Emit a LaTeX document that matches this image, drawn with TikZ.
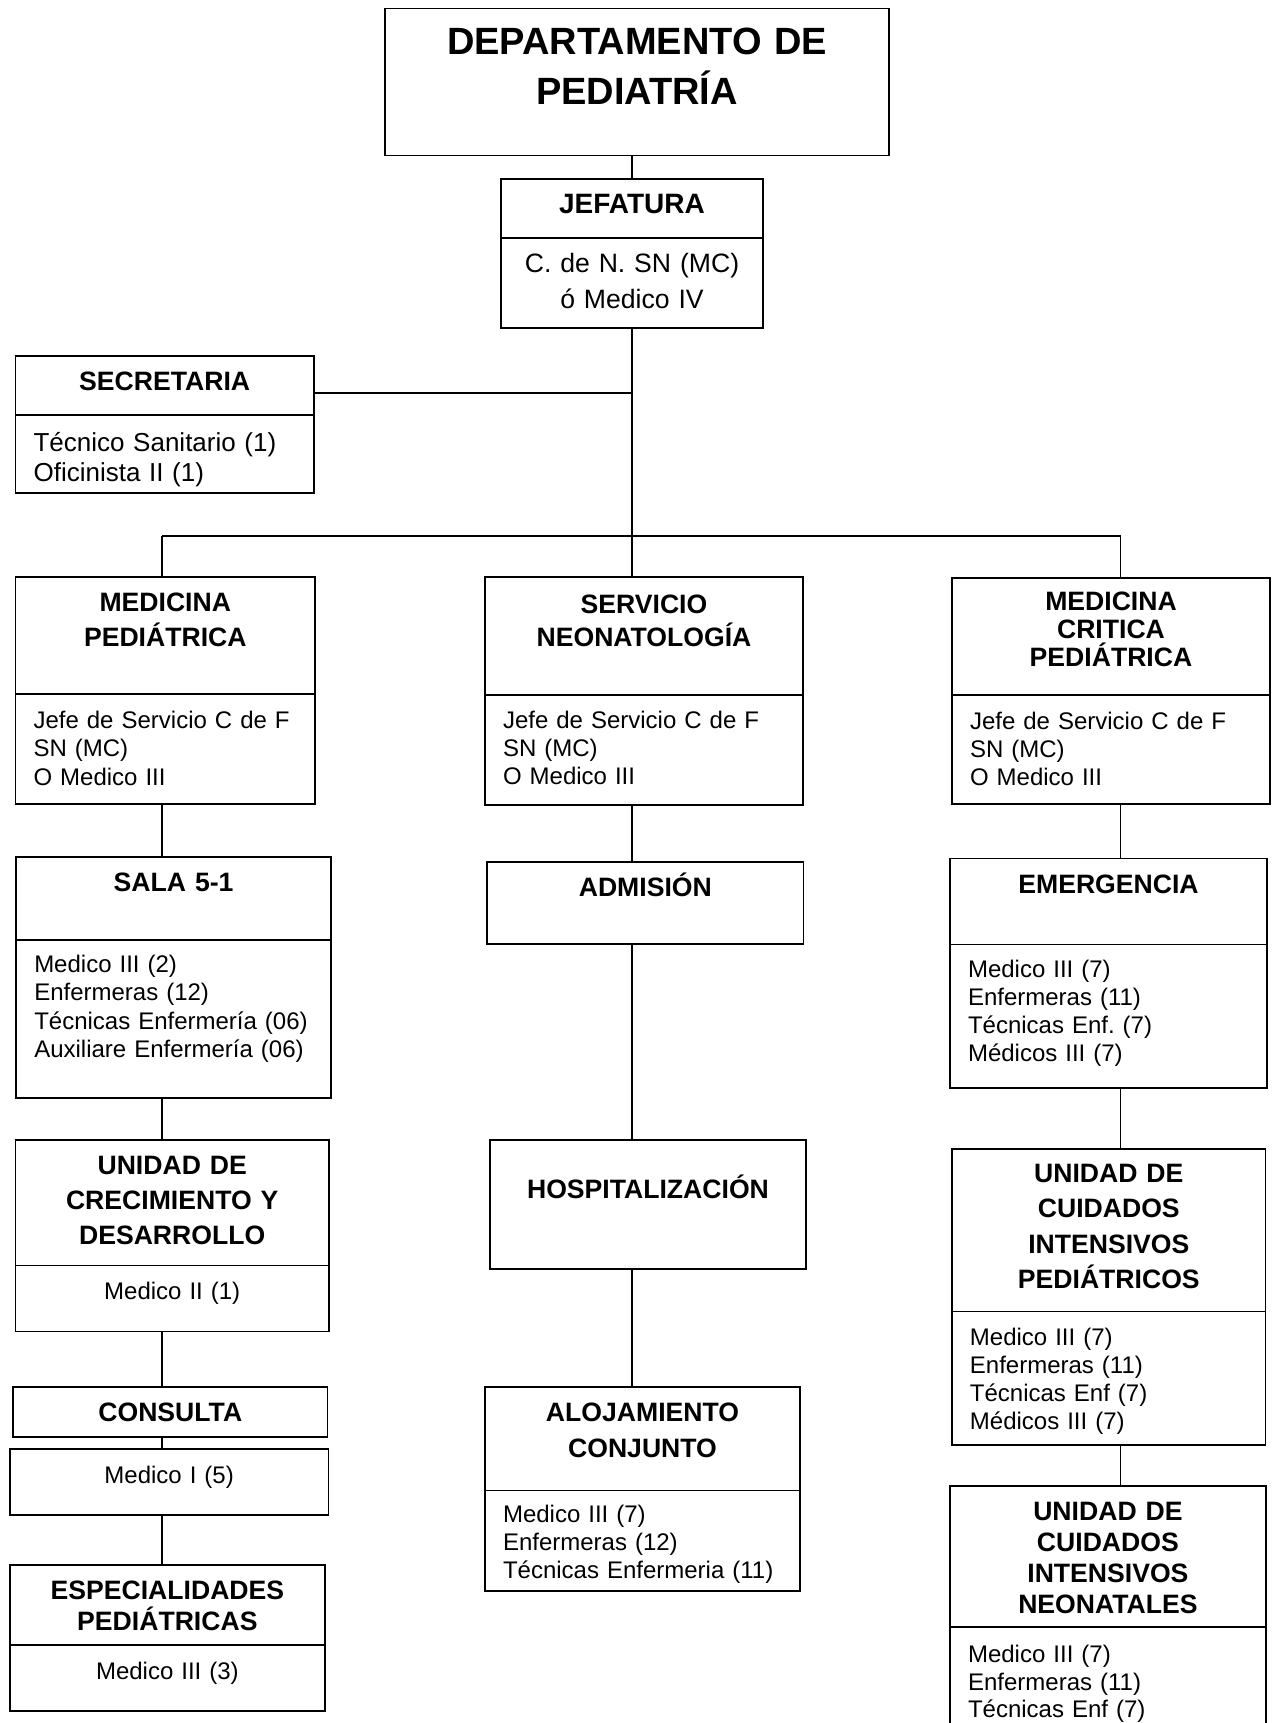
\documentclass[tikz,border=0pt]{standalone}
\usepackage{fontspec}
\setmainfont{Liberation Sans}
\usetikzlibrary{positioning}

\begin{document}
\frenchspacing
\begin{tikzpicture}[%
        x=0.5pt, y=-0.5pt,
        box/.style={draw, rectangle, anchor=north, inner xsep=9pt, inner ysep=0pt, outer sep=0pt, text height=17pt, line width=0.8pt},
        title/.style={box, align=center, font=\bfseries\fontsize{13.3}{#1}\selectfont},
        title/.default=17.5pt,
        staff/.style={box, align=left, font=\fontsize{12}{#1}\selectfont},
        staff/.default=14pt,
        headcount/.style={box, align=center, font=\fontsize{12}{#1}\selectfont},
        headcount/.default=14pt,
        line width=0.8pt
      ]
      \useasboundingbox (0,0) rectangle (1278,1723);
      % top of the chart
      \node [title=25pt, font=\bfseries\fontsize{19}{25}\selectfont, text width=234.25pt, text height=23pt, text depth=50.5pt] (dept) at (637,8.6) {DEPARTAMENTO DE\\PEDIATRÍA};
      \node [title, font=\bfseries\fontsize{14}{17.5}\selectfont, text width=113pt, text depth=12.5pt] (jefT) at (632,179) {JEFATURA};
      \node [headcount=18pt, font=\fontsize{13.3}{18}\selectfont, text width=113pt, text depth=28pt, below=0pt of jefT] (jefB) {C. de N. SN (MC)\\ó Medico IV};
      \node [title, text width=131.15pt, text depth=12.5pt] (secT) at (164.7,356) {SECRETARIA};
      \node [staff=15pt, font=\fontsize{13}{15}\selectfont, text width=131.15pt, text height=18pt, text depth=21pt, below=0pt of secT] (secB) {Técnico Sanitario (1)\\Oficinista II (1)};
      % services
      \node [title=17.75pt, text width=131.75pt, text depth=41.5pt] (mpT) at (165.3,577) {MEDICINA\\PEDIÁTRICA};
      \node [staff=14.25pt, text width=131.75pt, text depth=38pt, below=0pt of mpT] (mpB) {Jefe de Servicio C de F\\SN (MC)\\O Medico III};
      \node [title=16.75pt, text width=141pt, text height=18pt, text depth=40.85pt] (snT) at (644,577) {SERVICIO\\NEONATOLOGÍA};
      \node [staff, text width=141pt, text depth=38.15pt, below=0pt of snT] (snB) {Jefe de Servicio C de F\\SN (MC)\\O Medico III};
      \node [title=14pt, text width=141pt, text height=16.4pt, text depth=42.1pt] (mcpT) at (1111,578) {MEDICINA\\CRITICA\\PEDIÁTRICA};
      \node [staff, text width=141pt, text depth=37.5pt, below=0pt of mcpT] (mcpB) {Jefe de Servicio C de F\\SN (MC)\\O Medico III};
      % left column
      \node [title, text width=139.35pt, text depth=24.5pt] (salaT) at (173.6,857) {SALA 5-1};
      \node [staff=14.25pt, text width=139.35pt, text height=16pt, text depth=63pt, below=0pt of salaT] (salaB) {Medico III (2)\\Enfermeras (12)\\Técnicas Enfermería (06)\\Auxiliare Enfermería (06)};
      \node [title=17.5pt, text width=138.75pt, text depth=45.75pt] (ucdT) at (172.2,1140) {UNIDAD DE\\CRECIMIENTO Y\\DESARROLLO};
      \node [headcount, text width=138.75pt, text depth=16pt, below=0pt of ucdT] (ucdB) {Medico II (1)};
      \node [title, text width=139.3pt, text depth=8pt] (cons) at (170.3,1387) {CONSULTA};
      \node [headcount, text width=141.3pt, text depth=16pt] (med1) at (169.1,1449) {Medico I (5)};
      \node [title=15.75pt, text width=139.6pt, text depth=23pt] (espT) at (167.4,1565) {ESPECIALIDADES\\PEDIÁTRICAS};
      \node [headcount, text width=139.6pt, text height=17.3pt, text depth=15.7pt, below=0pt of espT] (espB) {Medico III (3)};
      % middle column
      \node [title, text width=140.3pt, text depth=24pt] (adm) at (645.3,862) {ADMISIÓN};
      \node [title, text width=140.1pt, text height=29.1pt, text depth=35.3pt] (hosp) at (648,1140) {HOSPITALIZACIÓN};
      \node [title=18pt, text width=139.5pt, text depth=34.8pt] (alojT) at (642.5,1387) {ALOJAMIENTO\\CONJUNTO};
      \node [staff, text width=139.5pt, text height=15.9pt, text depth=34.3pt, below=0pt of alojT] (alojB) {Medico III (7)\\Enfermeras (12)\\Técnicas Enfermeria (11)};
      % right column
      \node [title, text width=140.5pt, text height=17.3pt, text depth=25.7pt] (emeT) at (1108.5,858.5) {EMERGENCIA};
      \node [staff, text width=140.5pt, text height=16.7pt, text depth=55pt, below=0pt of emeT] (emeB) {Medico III (7)\\Enfermeras (11)\\Técnicas Enf. (7)\\Médicos III (7)};
      \node [title=17.6pt, text width=138.85pt, text height=16.8pt, text depth=64.45pt] (ucipT) at (1108.8,1149) {UNIDAD DE\\CUIDADOS\\INTENSIVOS\\PEDIÁTRICOS};
      \node [staff, text width=138.85pt, text depth=49.75pt, below=0pt of ucipT] (ucipB) {Medico III (7)\\Enfermeras (11)\\Técnicas Enf (7)\\Médicos III (7)};
      \node [title=15.5pt, text width=139.85pt, text height=17.3pt, text depth=53.2pt] (ucinT) at (1107.9,1486) {UNIDAD DE\\CUIDADOS\\INTENSIVOS\\NEONATALES};
      \node [staff=13.8pt, text width=139.85pt, text height=17.7pt, text depth=40pt, below=0pt of ucinT] (ucinB) {Medico III (7)\\Enfermeras (11)\\Técnicas Enf (7)};
      % connectors
      \coordinate (colL) at (162,536);
      \coordinate (colC) at (632,536);
      \coordinate (colR) at (1120.6,536);
      \draw (dept.south -| jefT.north) -- (jefT.north);
      \draw (jefB.south) -- (colC);
      \draw ([yshift=-3.75pt]secT.east) -- ([yshift=-3.75pt]secT.east -| colC);
      \draw (colL) -- (colR);
      \foreach \c/\n in {colL/mpT, colC/snT, colR/mcpT}
        \draw (\c) -- (\c |- \n.north);
      \foreach \c/\a/\b in {colL/mpB/salaT, colL/salaB/ucdT, colL/ucdB/cons, colL/cons/med1, colL/med1/espT,
                            colC/snB/adm, colC/adm/hosp, colC/hosp/alojT,
                            colR/mcpB/emeT, colR/emeB/ucipT, colR/ucipB/ucinT}
        \draw (\c |- \a.south) -- (\c |- \b.north);
\end{tikzpicture}
\end{document}
